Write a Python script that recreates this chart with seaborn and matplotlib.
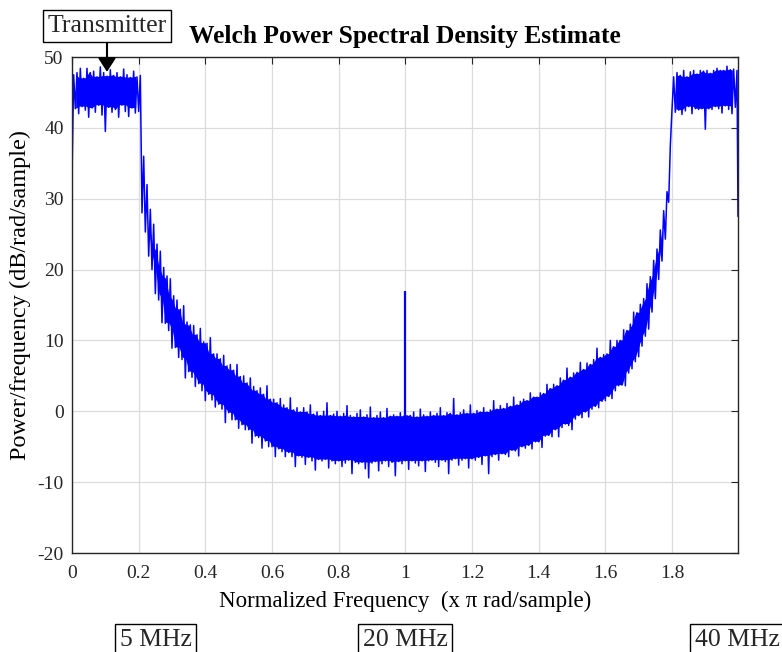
import numpy as np
import pandas as pd
import matplotlib
matplotlib.use("Agg")
import matplotlib.pyplot as plt
import seaborn as sns

# ---------------- data ----------------
# frequency bins, x pi rad/sample (0.00 ... 1.99, step 0.01)
freq = [round(0.01 * i, 2) for i in range(200)]

# centre of the PSD band per bin (dB/rad/sample)
psd_mid = [
    40.0, 45.3, 45.5, 45.2, 45.4, 45.6, 45.3, 45.2, 45.5, 45.4,
    45.1, 45.3, 45.4, 45.2, 45.3, 45.5, 45.2, 45.0, 45.3, 45.2,
    45.1, 32.0, 28.5, 25.5, 23.0, 20.8, 19.0, 17.3, 15.8, 14.5,
    13.3, 12.2, 11.2, 10.4, 9.6, 8.9, 8.3, 7.7, 7.1, 6.6,
    6.1, 5.6, 5.1, 4.7, 4.3, 3.9, 3.4, 3.0, 2.6, 2.2,
    1.8, 1.4, 1.0, 0.6, 0.3, -0.1, -0.4, -0.7, -1.0, -1.3,
    -1.6, -1.8, -2.0, -2.2, -2.4, -2.6, -2.8, -2.9, -3.0, -3.1,
    -3.2, -3.3, -3.4, -3.4, -3.5, -3.5, -3.6, -3.6, -3.6, -3.7,
    -3.7, -3.7, -3.8, -3.7, -3.8, -3.8, -3.8, -3.9, -3.8, -3.8,
    -3.9, -3.8, -3.8, -3.9, -3.8, -3.8, -3.8, -3.7, -3.8, -3.8,
    -3.8, -3.8, -3.7, -3.8, -3.7, -3.7, -3.7, -3.6, -3.7, -3.6,
    -3.6, -3.6, -3.6, -3.5, -3.5, -3.5, -3.5, -3.4, -3.4, -3.4,
    -3.3, -3.3, -3.2, -3.2, -3.1, -3.0, -2.9, -2.8, -2.7, -2.6,
    -2.5, -2.4, -2.2, -2.1, -1.9, -1.8, -1.6, -1.4, -1.2, -1.0,
    -0.8, -0.5, -0.2, 0.0, 0.3, 0.6, 0.9, 1.2, 1.5, 1.7,
    2.0, 2.3, 2.6, 2.9, 3.2, 3.5, 3.8, 4.1, 4.4, 4.7,
    5.1, 5.5, 5.9, 6.4, 6.9, 7.5, 8.1, 8.8, 9.6, 10.5,
    11.5, 12.7, 14.0, 15.5, 17.5, 19.5, 22.0, 24.5, 27.5, 32.5,
    45.0, 45.2, 45.0, 45.3, 45.1, 45.4, 45.2, 45.3, 45.5, 45.2,
    45.4, 45.3, 45.6, 45.4, 45.5, 45.3, 45.6, 45.5, 45.4, 45.5,
]

# upward excursion of the noisy trace above the centre, per bin (dB)
psd_up = [
    7.5, 2.5, 2.9, 1.8, 3.0, 2.2, 2.7, 2.0, 3.1, 2.4,
    2.2, 2.9, 2.0, 2.6, 1.9, 2.8, 2.3, 2.1, 2.7, 2.0,
    2.3, 4.0, 3.5, 3.0, 3.4, 2.8, 3.6, 3.0, 3.3, 4.2,
    3.0, 3.5, 3.2, 4.5, 3.0, 3.3, 3.8, 3.1, 4.6, 3.2,
    3.5, 4.8, 3.0, 3.4, 3.1, 4.0, 3.0, 3.6, 3.2, 4.4,
    3.1, 3.6, 3.0, 4.1, 3.2, 3.0, 3.7, 3.1, 4.6, 3.0,
    3.3, 3.0, 3.8, 3.1, 2.9, 4.5, 3.0, 3.4, 2.9, 3.6,
    3.1, 4.2, 3.0, 3.3, 2.9, 3.5, 4.8, 3.0, 3.2, 3.7,
    3.0, 3.4, 4.6, 3.1, 3.0, 3.5, 4.0, 3.1, 3.3, 4.4,
    3.0, 3.2, 3.7, 3.0, 4.2, 3.1, 3.3, 3.0, 3.6, 3.1,
    3.2, 3.2, 3.6, 3.0, 4.0, 3.2, 3.0, 3.5, 3.1, 3.3,
    4.1, 3.0, 3.4, 3.2, 5.3, 3.0, 3.3, 3.6, 3.1, 4.3,
    3.0, 3.4, 3.1, 3.7, 3.0, 3.2, 4.4, 3.1, 3.5, 3.0,
    3.6, 3.1, 4.2, 3.0, 3.3, 3.5, 3.1, 4.0, 3.2, 3.0,
    3.4, 3.0, 4.0, 3.2, 3.5, 3.0, 3.8, 3.2, 4.6, 3.1,
    3.4, 3.2, 4.3, 3.0, 3.6, 3.1, 3.5, 4.8, 3.2, 3.3,
    3.0, 4.5, 3.2, 3.6, 3.1, 4.0, 3.3, 3.5, 4.4, 3.4,
    3.6, 3.2, 4.0, 3.5, 3.8, 3.4, 3.6, 3.8, 3.5, 5.0,
    2.2, 2.6, 2.4, 2.8, 2.1, 2.5, 2.9, 2.3, 2.6, 2.8,
    2.7, 2.4, 2.5, 3.0, 2.6, 2.8, 3.1, 2.7, 2.9, 2.6,
]

# downward excursion of the noisy trace below the centre, per bin (dB)
psd_down = [
    7.0, 2.6, 3.5, 2.2, 2.9, 4.1, 2.5, 3.0, 2.3, 3.6,
    5.6, 2.4, 3.2, 2.6, 3.8, 2.3, 2.9, 3.4, 2.5, 3.1,
    2.8, 4.0, 3.2, 3.6, 3.0, 4.2, 3.3, 4.8, 3.4, 3.1,
    4.4, 3.2, 3.6, 3.1, 4.9, 3.3, 3.5, 4.2, 3.2, 3.7,
    4.6, 3.2, 3.5, 4.1, 3.3, 3.6, 5.0, 3.2, 3.8, 3.4,
    4.2, 3.3, 3.6, 3.2, 4.8, 3.4, 3.3, 4.5, 3.2, 3.7,
    3.4, 4.6, 3.3, 3.5, 4.0, 3.2, 3.6, 4.9, 3.3, 3.4,
    4.3, 3.2, 3.6, 4.9, 3.3, 3.5, 3.2, 4.4, 3.4, 3.7,
    3.3, 4.1, 3.5, 3.2, 5.0, 3.4, 3.6, 3.3, 4.3, 5.6,
    3.4, 3.3, 4.6, 3.5, 3.2, 4.0, 3.4, 5.4, 3.3, 3.6,
    3.2, 4.4, 3.3, 3.5, 4.0, 3.3, 4.8, 3.4, 3.2, 3.6,
    4.2, 3.3, 3.5, 5.3, 3.4, 3.2, 4.1, 3.5, 3.3, 4.6,
    3.4, 3.6, 3.3, 4.3, 3.2, 5.8, 3.5, 3.3, 4.2, 3.4,
    3.6, 4.0, 3.3, 3.5, 4.4, 3.2, 3.6, 3.4, 4.1, 3.3,
    3.5, 4.6, 3.3, 3.4, 3.9, 3.2, 4.5, 3.5, 3.3, 3.7,
    4.6, 3.4, 3.2, 3.8, 3.3, 4.3, 3.5, 3.4, 3.9, 3.3,
    3.6, 3.4, 4.1, 3.5, 3.3, 3.8, 4.5, 3.4, 3.6, 3.5,
    3.8, 3.5, 3.4, 3.9, 3.5, 3.6, 3.4, 3.3, 3.2, 3.0,
    2.4, 3.0, 2.5, 3.4, 2.7, 2.4, 3.2, 2.6, 2.9, 2.5,
    5.6, 2.6, 3.0, 2.4, 2.8, 3.2, 2.5, 2.9, 3.4, 2.6,
]

# last sample at the right edge of the axis
end_freq = 1.998
end_level = 27.5

# pilot tone at the centre
tone_freq = 1.0
tone_floor = -3.8
tone_level = 17.0

x_ticks = [0, 0.2, 0.4, 0.6, 0.8, 1, 1.2, 1.4, 1.6, 1.8]
x_tick_labels = ["0", "0.2", "0.4", "0.6", "0.8", "1", "1.2", "1.4", "1.6", "1.8"]
y_ticks = [-20, -10, 0, 10, 20, 30, 40, 50]

title = "Welch Power Spectral Density Estimate"
x_label = "Normalized Frequency  (x \u03c0 rad/sample)"
y_label = "Power/frequency (dB/rad/sample)"
box_labels = ["5 MHz", "20 MHz", "40 MHz"]

# ---------------- build the trace: low then high sample in each bin ----------------
mid = np.array(psd_mid)
lo = mid - np.array(psd_down)
hi = mid + np.array(psd_up)

xs, ys = [], []
for f, l, h in zip(freq, lo, hi):
    xs.append(f)
    ys.append(l)
    xs.append(f + 0.005)
    ys.append(h)
xs.append(end_freq)
ys.append(end_level)
df = pd.DataFrame({"f": xs, "psd": ys})

# solid core of the noisy band: where neighbouring samples overlap
core_hi = np.minimum.reduce([np.roll(hi, 1), hi, np.roll(hi, -1)])
core_lo = np.maximum.reduce([np.roll(lo, 1), lo, np.roll(lo, -1)])
core_f = np.array(freq) + 0.0025
valid = (core_hi > core_lo)
valid[0] = False
valid[-1] = False
valid[20:23] = False
valid[178:181] = False

# ---------------- plot ----------------
sns.set_theme(style="whitegrid")
plt.rcParams["font.family"] = ["Liberation Serif", "DejaVu Serif"]
plt.rcParams["axes.unicode_minus"] = False

fig = plt.figure(figsize=(7.82, 6.52), dpi=100)
ax = fig.add_axes([72 / 782, 99 / 652, 666 / 782, 496 / 652])

ax.fill_between(core_f, core_lo, core_hi, where=valid, color="#0000ff",
                lw=0, interpolate=False)
sns.lineplot(data=df, x="f", y="psd", sort=False, estimator=None,
             color="#0000ff", lw=1.1, ax=ax, legend=False)
ax.vlines(tone_freq, tone_floor, tone_level, color="#0000ff", lw=1.6)

ax.set_xlim(0, end_freq)
ax.set_ylim(-20, 50)
ax.set_xticks(x_ticks)
ax.set_xticklabels(x_tick_labels)
ax.set_yticks(y_ticks)

ax.grid(True, color="#dcdcdc", lw=0.9)
ax.set_facecolor("white")
for s in ax.spines.values():
    s.set_visible(True)
    s.set_color("#262626")
    s.set_linewidth(1.0)
ax.tick_params(axis="both", which="both", direction="in", length=5, width=0.8,
               colors="#262626", labelsize=14, top=True, right=True,
               labeltop=False, labelright=False)
ax.tick_params(axis="x", pad=9)
ax.tick_params(axis="y", pad=6)
for lab in ax.get_xticklabels() + ax.get_yticklabels():
    lab.set_color("#262626")

ax.set_xlabel(x_label, fontsize=16.5, color="black", labelpad=6)
ax.set_ylabel(y_label, fontsize=17.5, color="black", labelpad=2)
ax.yaxis.set_label_coords(-0.061, 0.52)
ax.set_title(title, fontsize=18.4, fontweight="bold", color="black", pad=10)

bbox = dict(boxstyle="square,pad=0.18", fc="white", ec="black", lw=1.0)
fig.text(107 / 782, 1 - 26 / 652, "Transmitter", ha="center", va="center",
         fontsize=18.5, bbox=bbox)
ax.annotate("", xy=(0.105, 47.9), xycoords="data",
            xytext=(107 / 782, 1 - 43 / 652), textcoords="figure fraction",
            arrowprops=dict(arrowstyle="-|>,head_length=0.7,head_width=0.45",
                            color="black", lw=1.5, shrinkA=0, shrinkB=0))

fig.text(155.5 / 782, 1 - 640 / 652, box_labels[0], ha="center", va="center",
         fontsize=18.5, bbox=bbox)
fig.text(405 / 782, 1 - 640 / 652, box_labels[1], ha="center", va="center",
         fontsize=18.5, bbox=bbox)
fig.text(695 / 782, 1 - 640 / 652, box_labels[2], ha="left", va="center",
         fontsize=18.5, bbox=bbox)

fig.savefig("out.png", dpi=100, facecolor="white")
